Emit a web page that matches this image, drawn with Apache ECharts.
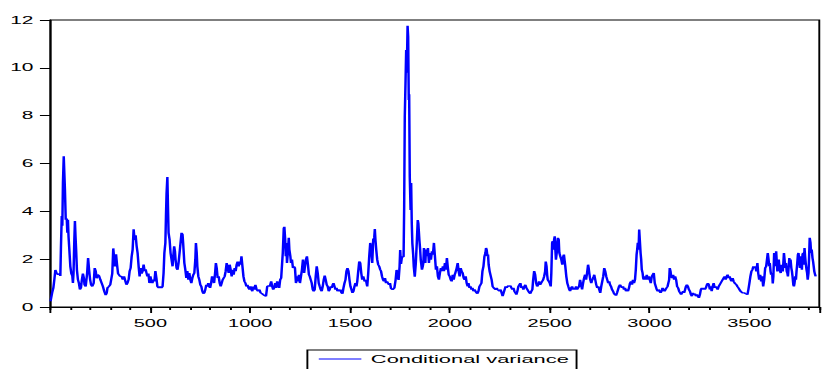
<!DOCTYPE html>
<html>
<head>
<meta charset="utf-8">
<title>Conditional variance</title>
<script src="https://cdn.jsdelivr.net/npm/echarts@6/dist/echarts.min.js"></script>
<style>
  html, body { margin: 0; padding: 0; background: #fff; overflow: hidden; }
  /* the source graph is stretched sideways: draw it narrow, then widen it */
  #chart { width: 434px; height: 369px; transform: scaleX(1.9009); transform-origin: 0 0; }
</style>
</head>
<body>
<div id="chart"></div>
<script>
const obsIndex = [
  0, 8, 14, 19, 24, 31, 38, 44, 49, 52, 56, 59, 62, 66, 69, 72, 76, 81, 84, 87, 90, 94, 99, 104, 109, 112, 115, 119, 122, 125, 128, 132, 137, 142, 147, 152, 157, 162, 167, 170, 176, 183, 188, 193, 198, 203, 209, 216, 221, 226, 231, 236, 243, 249, 256, 262, 269, 276, 281, 285, 292, 299, 305, 309, 314, 319, 323, 328, 333, 338, 343, 348, 355, 362, 368, 375, 380, 385, 391, 396, 401, 406, 411, 416, 421, 426, 431, 436, 441, 446, 451, 456, 461, 466, 471, 476, 481, 485, 490,
  495, 500, 505, 510, 515, 520, 525, 530, 535, 542, 548, 555, 561, 566, 570, 575, 578, 581, 585, 588, 591, 596, 601, 606, 611, 616, 619, 623, 626, 631, 636, 641, 646, 651, 656, 661, 664, 667, 670, 675, 680, 685, 690, 695, 700, 705, 710, 715, 720, 725, 728, 732, 735, 740, 745, 750, 755, 760, 765, 770, 775, 780, 785, 790, 794, 799, 804, 809, 814, 819, 824, 828, 832, 837, 842, 847, 852, 857, 862, 867, 872, 877, 882, 887, 892, 897, 902, 907, 912, 917, 922, 927, 932, 937, 942, 947, 952, 956, 961, 966, 971, 976, 981, 986, 991, 996, 1001, 1006, 1011,
  1012, 1019, 1026, 1032, 1039, 1046, 1052, 1059, 1065, 1072, 1079, 1085, 1092, 1098, 1105, 1110, 1115, 1120, 1125, 1130, 1135, 1140, 1145, 1150, 1155, 1160, 1163, 1168, 1171, 1175, 1178, 1181, 1184, 1189, 1193, 1196, 1201, 1204, 1209, 1214, 1219, 1224, 1229, 1234, 1239, 1244, 1249, 1254, 1259, 1264, 1267, 1270, 1274, 1279, 1284, 1289, 1294, 1298, 1303, 1308, 1313, 1318, 1323, 1328, 1333, 1338, 1343, 1348, 1353, 1358, 1363, 1368, 1373, 1378, 1383, 1388, 1393, 1398, 1403, 1408, 1413, 1417, 1422, 1427, 1432, 1437, 1442, 1447, 1452, 1457, 1462, 1467, 1472, 1477, 1482, 1487, 1492, 1497, 1502, 1507, 1512, 1517, 1522, 1527, 1532,
  1536, 1541, 1546, 1551, 1556, 1561, 1566, 1573, 1579, 1586, 1591, 1596, 1601, 1606, 1611, 1616, 1621, 1624, 1627, 1631, 1636, 1641, 1646, 1651, 1655, 1660, 1665, 1670, 1675, 1680, 1685, 1690, 1695, 1700,
  1705, 1713, 1722, 1728, 1733, 1738, 1743, 1748, 1751, 1755, 1760, 1765, 1768, 1771, 1774, 1778, 1781, 1784, 1788, 1791, 1794, 1796, 1799, 1803, 1806, 1809, 1812, 1816, 1819, 1824, 1829, 1834, 1839, 1842,
  1847, 1851, 1854, 1857, 1860, 1864, 1867, 1870, 1874, 1877, 1880, 1885, 1890, 1895, 1900, 1905, 1910, 1915, 1920, 1925, 1930, 1935, 1940, 1945, 1950, 1955, 1960, 1965, 1970, 1975, 1980, 1985, 1989, 1994, 1999, 2004, 2009, 2014, 2019, 2024,
  2027, 2034, 2039, 2044, 2049, 2054, 2059, 2064, 2069, 2074, 2079, 2084, 2089, 2093, 2098, 2103, 2108, 2113, 2118, 2123, 2128, 2133, 2138, 2143, 2148, 2153, 2158, 2163, 2168, 2173, 2178, 2181, 2184, 2188, 2191, 2194, 2199, 2204, 2209, 2214, 2219, 2224, 2229, 2234, 2239, 2244, 2249, 2254, 2259, 2264, 2269, 2274, 2279, 2284, 2289, 2294, 2298, 2303, 2308, 2313, 2318, 2323, 2328, 2333, 2338, 2343, 2348, 2353, 2358, 2363, 2368, 2373, 2378, 2383, 2388, 2393, 2398, 2403, 2408, 2413, 2417, 2422, 2427, 2432, 2437, 2442, 2447, 2452, 2457, 2462, 2467, 2472, 2477, 2480, 2484, 2487, 2490, 2495, 2500, 2505, 2508, 2512, 2515, 2518, 2522, 2525, 2528, 2531, 2535, 2538, 2541, 2545, 2548, 2553, 2558, 2563, 2568, 2571,
  2573, 2578, 2583, 2588, 2593, 2598, 2602, 2607, 2612, 2617, 2622, 2627, 2632, 2637, 2642, 2647, 2652, 2657, 2662, 2667, 2672, 2677, 2682, 2687, 2692, 2695, 2698, 2703, 2708, 2713, 2718, 2723, 2728, 2733, 2738, 2743, 2748, 2753, 2758, 2763, 2768, 2773, 2778, 2783, 2788, 2793, 2798, 2802, 2807, 2812, 2817, 2822, 2827, 2832, 2837, 2842, 2847, 2852, 2857, 2862, 2867, 2872, 2877, 2882, 2887, 2892, 2897, 2902, 2907, 2912, 2917, 2922, 2927, 2931, 2935, 2938, 2941, 2945, 2948, 2951, 2955, 2958, 2961, 2965, 2968, 2971, 2976, 2981, 2986, 2991, 2996, 3001, 3006, 3011, 3016, 3021, 3026, 3031, 3036, 3041, 3045, 3050, 3055, 3060, 3065, 3070, 3075, 3080, 3085, 3090,
  3093, 3098, 3101, 3105, 3108, 3113, 3118, 3123, 3128, 3133, 3138, 3143, 3148, 3153, 3158, 3163, 3168, 3173, 3178, 3182, 3187, 3192, 3197, 3202, 3207, 3212, 3217, 3222, 3227, 3232, 3237, 3242, 3247, 3252, 3257, 3262, 3267, 3272, 3277, 3282, 3287, 3292, 3297, 3302, 3306, 3311, 3316, 3321, 3326, 3331, 3336, 3341, 3346, 3351, 3356, 3361, 3366, 3371, 3376, 3381, 3386, 3391, 3396, 3401, 3406, 3411, 3416, 3421, 3426, 3430, 3435, 3440, 3445, 3450, 3455, 3460, 3465, 3470, 3475, 3480, 3485, 3490, 3495, 3500, 3505, 3510, 3515, 3520, 3525, 3530, 3535, 3540, 3544, 3549, 3554, 3559, 3564, 3569, 3574, 3579, 3584, 3589, 3592, 3596, 3599, 3602, 3606, 3609, 3614,
  3617, 3620, 3624, 3627, 3630, 3634, 3637, 3640, 3644, 3647, 3650, 3654, 3657, 3660, 3663, 3667, 3670, 3673, 3677, 3680, 3683, 3687, 3690, 3693, 3697, 3700, 3703, 3706, 3710, 3713, 3716, 3720, 3723, 3726, 3730, 3733, 3736, 3739, 3743, 3746, 3749, 3753, 3756, 3759, 3763, 3766, 3769, 3773, 3776, 3779, 3782, 3786, 3789, 3792, 3796, 3799, 3802, 3806, 3809, 3812, 3816, 3819, 3822, 3825, 3829, 3832
];

// conditional variance at each of those observations
const condVariance = [
  0.24, 0.6, 0.8, 1.15, 1.55, 1.4, 1.35, 1.4, 1.3, 2.5, 3.8, 3.4, 5.2, 6.3, 5.6, 4.9, 3.65, 3.7, 3.1, 3.65, 2.95, 2.4, 1.7, 1.4, 1.3, 1.0, 1.4, 2.8, 3.6, 2.95, 2.4, 1.55, 1.15, 1.0, 0.73, 0.8, 1.15, 1.4, 1.2, 0.93, 0.86, 1.4, 2.05, 1.55, 1.15, 0.93, 0.86, 1.0, 1.63, 1.5, 1.2, 1.35, 1.3, 1.15, 1.0, 0.86, 0.65, 0.5, 0.58, 0.8, 0.86, 0.93, 0.93, 1.4, 2.45, 2.0, 1.7, 2.2, 1.77, 1.4, 1.4, 1.28, 1.28, 1.15, 1.28, 1.07, 0.93, 1.0, 1.15, 1.5, 1.63, 2.1, 2.4, 3.25, 2.8, 3.0, 2.55, 2.25, 1.7, 1.28, 1.63, 1.4, 1.5, 1.77, 1.5, 1.57, 1.4, 1.28, 1.4,
  1.0, 1.28, 1.07, 1.0, 1.15, 1.07, 1.5, 1.21, 0.86, 0.8, 0.86, 0.8, 0.86, 1.42, 2.26, 2.68, 3.8, 4.77, 5.44, 4.2, 3.1, 2.82, 2.26, 1.98, 1.7, 2.26, 2.54, 2.33, 1.98, 1.63, 1.56, 1.84, 2.26, 2.68, 3.1, 3.03, 2.68, 2.26, 1.84, 1.56, 1.21, 1.5, 1.14, 1.42, 1.14, 1.0, 1.21, 1.35, 1.42, 1.98, 2.68, 2.26, 1.7, 1.28, 1.14, 0.93, 0.86, 0.66, 0.56, 0.59, 0.73, 0.93, 0.86, 1.0, 0.86, 0.8, 1.0, 1.28, 1.14, 1.0, 1.42, 1.84, 1.63, 1.21, 1.28, 1.0, 0.86, 1.0, 1.14, 1.14, 1.28, 1.5, 1.84, 1.63, 1.42, 1.77, 1.56, 1.28, 1.56, 1.35, 1.63, 1.5, 1.77, 1.9, 1.7, 1.9, 1.77, 2.12, 1.7, 1.28, 1.07, 1.0, 0.86, 0.93, 0.8, 0.73, 0.86, 0.73, 0.66,
  0.86, 0.73, 0.93, 0.73, 0.66, 0.73, 0.59, 0.56, 0.52, 0.48, 0.45, 0.86, 0.89, 0.86, 1.07, 0.86, 0.73, 0.8, 1.0, 0.8, 1.07, 0.93, 0.8, 1.14, 1.21, 1.21, 2.26, 3.3, 3.35, 2.82, 2.12, 2.68, 1.84, 2.33, 2.89, 2.4, 2.12, 1.84, 1.98, 1.63, 1.7, 1.63, 1.0, 1.28, 1.07, 1.35, 1.0, 1.28, 1.56, 1.98, 1.7, 1.42, 1.7, 1.98, 2.12, 1.77, 1.35, 1.28, 1.14, 1.0, 0.73, 0.66, 0.73, 1.28, 1.7, 1.42, 1.0, 0.86, 0.73, 0.66, 0.86, 1.14, 1.31, 1.14, 0.93, 0.86, 0.66, 0.73, 0.86, 0.8, 0.93, 1.0, 0.86, 0.73, 0.8, 0.66, 0.73, 0.66, 0.73, 0.59, 0.56, 0.8, 1.0, 1.14, 1.5, 1.63, 1.5, 1.14, 0.86, 0.73, 0.59, 0.66, 0.86, 1.0, 0.86,
  1.07, 1.5, 1.9, 1.84, 1.42, 1.14, 1.28, 1.07, 1.14, 0.86, 1.42, 2.12, 2.68, 2.4, 1.84, 2.82, 2.89, 3.26, 2.82, 2.4, 1.98, 1.77, 1.7, 1.56, 1.5, 1.28, 1.14, 1.07, 1.21, 1.0, 1.07, 1.0, 0.93, 1.0,
  0.78, 0.72, 0.8, 1.13, 1.55, 1.3, 1.13, 1.69, 2.38, 1.8, 2.1, 2.1, 2.1, 4.2, 7.96, 9.5, 10.75, 9.8, 11.76, 11.3, 8.66, 8.9, 5.45, 4.06, 5.18, 3.5, 2.66, 2.2, 1.69, 1.27, 1.8, 2.66, 3.64, 3.5,
  2.82, 2.4, 1.98, 1.77, 1.56, 1.7, 1.84, 2.47, 2.19, 1.84, 2.4, 2.12, 2.47, 1.84, 2.26, 1.98, 2.33, 2.19, 2.68, 2.12, 1.56, 1.7, 1.28, 1.14, 1.42, 1.63, 1.5, 1.7, 1.5, 1.84, 1.56, 2.05, 1.7, 1.35, 1.28, 1.14, 1.07, 1.35, 1.14, 1.35,
  1.42, 1.63, 1.84, 1.49, 1.28, 1.63, 1.49, 1.42, 1.21, 1.14, 1.28, 1.0, 0.86, 1.0, 0.8, 0.86, 0.73, 0.8, 0.66, 0.73, 0.66, 0.59, 0.56, 0.66, 0.86, 0.86, 1.0, 1.5, 1.7, 2.12, 2.26, 2.47, 2.4, 2.12, 2.19, 1.77, 1.49, 1.49, 1.14, 0.86, 0.8, 0.8, 0.73, 0.8, 0.73, 0.73, 0.66, 0.73, 0.59, 0.45, 0.59, 0.73, 0.86, 0.8, 0.86, 0.89, 0.86, 0.89, 0.8, 0.73, 0.8, 0.66, 0.59, 0.52, 0.66, 0.86, 0.93, 1.0, 0.8, 0.86, 0.73, 0.86, 0.93, 0.8, 0.73, 0.66, 0.59, 0.56, 0.66, 0.73, 1.14, 1.5, 1.35, 1.0, 0.86, 0.93, 1.07, 0.93, 1.0, 1.07, 1.14, 1.28, 1.49, 1.9, 1.7, 1.35, 1.14, 1.07, 1.0, 0.86, 1.42, 2.68, 2.75, 2.4, 2.82, 2.96, 2.4, 1.98, 2.26, 2.68, 2.89, 2.82, 2.26, 2.12, 1.98, 1.77, 2.12, 2.19,
  2.19, 1.7, 1.28, 1.0, 0.86, 0.73, 0.66, 0.8, 0.86, 0.73, 0.8, 0.73, 0.86, 0.73, 0.8, 0.86, 1.14, 0.93, 0.73, 1.0, 1.21, 1.35, 1.14, 1.42, 1.77, 1.63, 1.42, 1.14, 1.0, 1.14, 1.21, 1.35, 1.14, 0.93, 0.8, 0.86, 0.73, 0.59, 0.86, 1.07, 1.28, 1.63, 1.49, 1.28, 1.14, 1.0, 1.07, 0.93, 0.86, 0.73, 0.66, 0.56, 0.52, 0.48, 0.59, 0.73, 0.86, 0.93, 0.86, 0.8, 0.86, 0.73, 0.8, 0.66, 0.73, 0.66, 0.8, 1.0, 1.07, 0.93, 1.14, 1.0, 1.14, 1.56, 2.19, 2.4, 2.68, 2.4, 3.24, 2.82, 2.26, 1.98, 1.56, 1.42, 1.21, 1.14, 1.28, 1.14, 1.35, 1.14, 1.28, 1.14, 1.0, 1.28, 1.35, 1.42, 1.0, 0.86, 0.73, 0.66, 0.73, 0.66, 0.59, 0.66, 0.8, 0.73, 0.66, 0.73, 0.8, 0.86,
  0.86, 1.14, 1.63, 1.49, 1.28, 1.21, 1.35, 1.14, 1.28, 1.14, 0.86, 0.8, 0.66, 0.59, 0.52, 0.59, 0.66, 0.59, 0.73, 0.86, 0.93, 0.86, 0.73, 0.66, 0.52, 0.45, 0.59, 0.52, 0.56, 0.45, 0.52, 0.45, 0.38, 0.52, 0.73, 0.8, 0.73, 0.8, 0.73, 0.8, 0.93, 1.0, 0.93, 0.73, 0.86, 0.66, 0.86, 1.0, 0.8, 0.86, 0.8, 0.73, 0.86, 0.86, 1.0, 1.07, 1.07, 1.21, 1.28, 1.14, 1.28, 1.35, 1.21, 1.28, 1.14, 1.07, 1.21, 1.07, 1.0, 1.0, 0.93, 0.86, 0.8, 0.73, 0.66, 0.66, 0.59, 0.59, 0.59, 0.56, 0.56, 0.52, 0.73, 1.0, 1.28, 1.49, 1.56, 1.7, 1.63, 1.7, 1.49, 1.84, 1.42, 1.14, 1.35, 1.07, 1.28, 0.86, 1.14, 1.63, 1.7, 2.05, 2.26, 1.98, 1.7, 1.84, 1.49, 1.35, 1.42,
  0.98, 1.28, 2.26, 2.19, 1.7, 2.33, 1.9, 1.49, 1.84, 1.98, 1.7, 1.49, 1.42, 1.77, 1.7, 1.49, 1.84, 2.26, 1.9, 1.63, 1.84, 1.49, 1.42, 1.28, 1.7, 2.05, 1.77, 1.98, 1.63, 1.49, 1.28, 0.93, 0.86, 1.0, 1.28, 1.14, 1.49, 1.77, 2.19, 2.26, 1.98, 1.63, 2.12, 1.84, 1.56, 2.19, 2.26, 1.77, 2.47, 2.12, 1.84, 1.56, 1.42, 1.14, 1.42, 2.12, 2.89, 2.68, 2.26, 2.4, 2.05, 1.9, 1.7, 1.49, 1.35, 1.28
];

const yTicks = [0, 2, 4, 6, 8, 10, 12];
const xLabels = [500, 1000, 1500, 2000, 2500, 3000, 3500];
const seriesName = 'Conditional variance';

const FONT = '"Liberation Sans", Arial, sans-serif';
const seriesData = obsIndex.map((x, i) => [x, condVariance[i]]);

const myChart = echarts.init(document.getElementById('chart'), null, { renderer: 'svg' });
myChart.setOption({
  animation: false,
  grid: {
    left: 26.6,
    right: -2,
    top: 20,
    bottom: 62,
    show: true,
    borderColor: '#000',
    borderWidth: 1
  },
  legend: {
    left: 161.7,
    top: 350,
    data: [{ name: seriesName, icon: 'rect' }],
    itemWidth: 22.4,
    itemHeight: 1,
    padding: [3, 4, 6, 6],
    borderColor: '#000',
    borderWidth: 1,
    borderRadius: 0,
    textStyle: { color: '#000', fontSize: 11.5, fontFamily: FONT },
    itemStyle: { color: '#0000ff' }
  },
  xAxis: [
    {
      // labelled ticks every 500 obs
      type: 'value',
      position: 'bottom',
      min: 0,
      max: 3850,
      interval: 500,
      axisLine: { show: true, lineStyle: { color: '#000', width: 1 } },
      axisTick: { show: true, length: 6, lineStyle: { color: '#000', width: 1 } },
      axisLabel: {
        margin: 11,
        color: '#000',
        fontSize: 10.5,
        fontFamily: FONT,
        formatter: (v) => (xLabels.indexOf(v) >= 0 ? String(v) : '')
      },
      splitLine: { show: false }
    },
    {
      // short ticks every 100 obs
      type: 'value',
      position: 'bottom',
      min: 0,
      max: 3850,
      interval: 100,
      axisLine: { show: false },
      axisTick: { show: true, length: 3, lineStyle: { color: '#000', width: 1 } },
      axisLabel: { show: false },
      splitLine: { show: false }
    }
  ],
  yAxis: {
    type: 'value',
    min: yTicks[0],
    max: yTicks[yTicks.length - 1],
    interval: 2,
    axisLine: { show: true, lineStyle: { color: '#000', width: 1 } },
    axisTick: { show: true, length: 5.6, lineStyle: { color: '#000', width: 1 } },
    axisLabel: { margin: 9, color: '#000', fontSize: 11, fontFamily: FONT },
    splitLine: { show: false }
  },
  series: [
    {
      name: seriesName,
      type: 'line',
      xAxisIndex: 0,
      data: seriesData,
      showSymbol: false,
      symbol: 'none',
      sampling: null,
      lineStyle: { color: '#0000ff', width: 1.3 },
      itemStyle: { color: '#0000ff' }
    }
  ]
});
</script>
</body>
</html>
